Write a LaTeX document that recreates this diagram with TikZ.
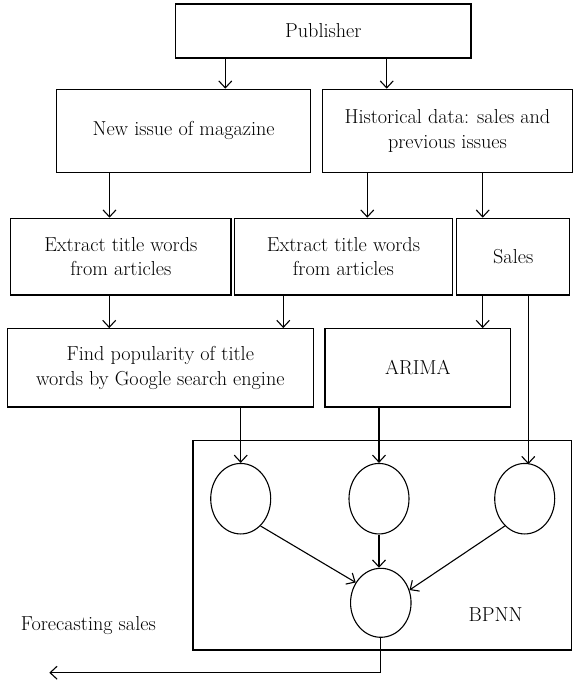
\documentclass[tikz,border=0pt]{standalone}
\usetikzlibrary{arrows.meta,shapes.geometric}
\begin{document}
\begin{tikzpicture}[x=1pt,y=-1pt,
  every node/.style={font=\fontsize{20.2}{24.5}\selectfont},
  stepbox/.style={draw,line width=1.2pt,inner sep=0pt,align=center},
  neuron/.style={draw,ellipse,line width=1.1pt,inner sep=0pt,minimum width=60pt,minimum height=70.5pt},
  conn/.style={line width=1.1pt,-{Straight Barb[length=7pt,width=13pt]}}]
\useasboundingbox (0,0) rectangle (573,682);
% boxes
\node[stepbox,minimum width=295.3pt,minimum height=54pt] (pub) at (323.35,31) {Publisher};
\node[stepbox,minimum width=253.8pt,minimum height=83pt] (new) at (183.6,130.8) {New issue of magazine};
\node[stepbox,minimum width=249.8pt,minimum height=83pt] (hist) at (447.4,130.8) {Historical data: sales and\\previous issues};
\node[stepbox,minimum width=220.3pt,minimum height=76.7pt] (ex1) at (120.85,256.65) {Extract title words\\from articles};
\node[stepbox,minimum width=218.2pt,minimum height=76.7pt] (ex2) at (343.4,256.65) {Extract title words\\from articles};
\node[stepbox,minimum width=113pt,minimum height=76.7pt] (sales) at (513.2,256.65) {Sales};
\node[stepbox,minimum width=306pt,minimum height=78.3pt] (find) at (160.3,367.85) {Find popularity of title\\words by Google search engine};
\node[stepbox,minimum width=185.7pt,minimum height=78.3pt] (arima) at (417.85,367.85) {ARIMA};
\node[stepbox,minimum width=378.7pt,minimum height=209.3pt] (bpnn) at (382.35,545.35) {};
% neurons
\node[neuron] (e1) at (240.7,498.7) {};
\node[neuron] (e2) at (379,498.7) {};
\node[neuron] (e3) at (524.7,498.7) {};
\node[neuron,minimum width=60.5pt,minimum height=69pt] (e4) at (380.8,602.8) {};
% labels
\node[anchor=base] (bpnnlabel) at (495.6,621.5) {BPNN};
\node[anchor=base west,inner sep=0pt] (fclabel) at (20.7,630.7) {Forecasting sales};
\coordinate (outend) at (49.3,672.7);
% connectors
\draw[conn] (pub.south -| 225.3,0) -- (new.north -| 225.3,0);
\draw[conn] (pub.south -| 386.7,0) -- (hist.north -| 386.7,0);
\draw[conn] (new.south -| 109.5,0) -- (ex1.north -| 109.5,0);
\draw[conn] (hist.south -| 367.3,0) -- (ex2.north -| 367.3,0);
\draw[conn] (hist.south -| 482.7,0) -- (sales.north -| 482.7,0);
\draw[conn] (ex1.south -| 109.2,0) -- (find.north -| 109.2,0);
\draw[conn] (ex2.south -| 283.3,0) -- (find.north -| 283.3,0);
\draw[conn] (sales.south -| 482.7,0) -- (arima.north -| 482.7,0);
\draw[conn] (find.south -| e1.north) -- (e1.north);
\draw[conn] (arima.south -| e2.north) -- (e2.north);
\draw[conn] (sales.south -| 528.3,0) -- (528.3,464.2);
\draw[conn] (e1.-54) -- (e4.141);
\draw[conn] (e2.south) -- (e2.south |- e4.north);
\draw[conn] (e3.-126) -- (e4.24);
\draw[conn] (e4.south) |- (outend);
\end{tikzpicture}
\end{document}
